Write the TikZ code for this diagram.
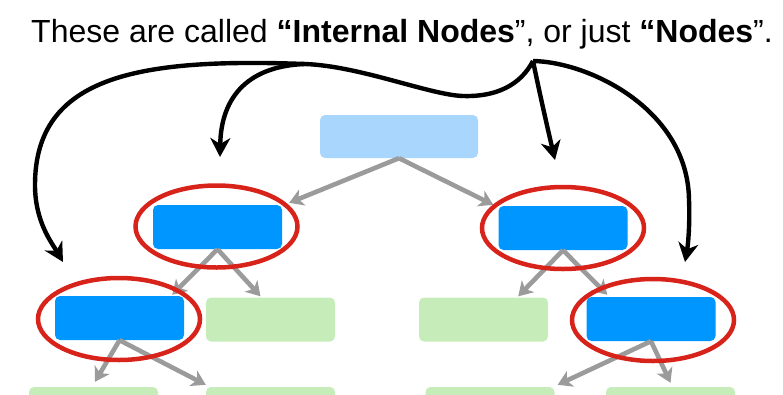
\documentclass[tikz,border=0pt]{standalone}
\usepackage{fontspec}
\setmainfont{Liberation Sans}
\usetikzlibrary{arrows.meta,shapes.geometric,calc}
\definecolor{rootblue}{HTML}{A9D6FD}
\definecolor{intblue}{HTML}{0096FF}
\definecolor{leafgreen}{HTML}{C6EDB9}
\definecolor{ringred}{HTML}{D8231B}
\definecolor{arrgray}{HTML}{9B9B9B}
\tikzset{
  box/.style={rectangle, rounded corners=5pt, inner sep=0pt, minimum width=129pt, minimum height=44pt},
  rootbox/.style={box, fill=rootblue, minimum width=158pt, minimum height=43pt},
  intbox/.style={box, fill=intblue},
  leafbox/.style={box, fill=leafgreen},
  ring/.style={ellipse, draw=ringred, line width=4.5pt, minimum width=162pt, minimum height=82pt, inner sep=0pt},
  garrow/.style={draw=arrgray, line width=4.6pt, -{Stealth[length=14pt,width=17pt,inset=4pt]}},
  barrow/.style={draw=black, line width=4.4pt, -{Stealth[length=19pt,width=20pt,inset=6pt]}},
  bline/.style={draw=black, line width=4.4pt}
}
\begin{document}
\begin{tikzpicture}[x=1pt,y=-1pt]
\useasboundingbox (0,0) rectangle (783,394);
\clip (0,0) rectangle (783,394);
\node[anchor=base, font=\fontsize{32pt}{36pt}\selectfont] (title) at (402,42)
  {These are called {\bfseries “Internal Nodes}”, or just {\bfseries “Nodes}”.};
% boxes
\node[rootbox] (root) at (399,136.5) {};
\node[intbox] (l1l) at (217.5,227) {};
\node[intbox] (l1r) at (563,228) {};
\node[intbox] (l2l) at (119.5,318) {};
\node[leafbox] (g2a) at (270.5,319.5) {};
\node[leafbox] (g2b) at (483.5,319.5) {};
\node[intbox] (l2r) at (651,319) {};
\node[leafbox] (l3a) at (93.5,409) {};
\node[leafbox] (l3b) at (270.5,409) {};
\node[leafbox] (l3c) at (490,409) {};
\node[leafbox] (l3d) at (670.5,409) {};
% gray arrows
\draw[garrow] (root.south) -- ($(l1l.north east)+(7,-2)$);
\draw[garrow] (root.south) -- ($(l1r.north west)+(-5,-1)$);
\draw[garrow] (l1l.south) -- ($(l2l.north east)+(-12,-1)$);
\draw[garrow] (l1l.south) -- ($(g2a.north)+(-10,-1)$);
\draw[garrow] (l1r.south) -- ($(g2b.north east)+(-30,-1)$);
\draw[garrow] (l1r.south) -- ($(l2r.north west)+(21,-2)$);
\draw[garrow] (l2l.south) -- ($(l3a.north)+(1.5,-5)$);
\draw[garrow] (l2l.south) -- ($(l3b.north west)+(0,-2)$);
\draw[garrow] (l2r.south) -- ($(l3c.north east)+(3,-2)$);
\draw[garrow] (l2r.south) -- ($(l3d.north)+(0,-4)$);
% red rings
\node[ring] (r1) at (216.5,226.5) {};
\node[ring] (r2) at (563,228) {};
\node[ring] (r3) at (119,319) {};
\node[ring] (r4) at (653,320) {};
% black pointer arrows
\coordinate (J) at (533,61);
\coordinate (B) at (305,64);
\coordinate (t1) at (63,262);
\coordinate (t2) at (220,157);
\coordinate (t3) at (555,160);
\coordinate (t4) at (685,262);
\draw[bline] (J) .. controls (520,86) and (495,97) .. (463,96)
  .. controls (430,95) and (360,66) .. (B);
\draw[barrow] (B) .. controls (140,58) and (35,75) .. (35,185)
  .. controls (35,222) and (52,243) .. (t1);
\draw[barrow] (B) .. controls (250,66) and (221,95) .. (t2);
\draw[barrow] (J) .. controls (540,95) and (548,130) .. (t3);
\draw[barrow] (J) .. controls (590,62) and (688,110) .. (689,200)
  .. controls (690,225) and (688,245) .. (t4);
\end{tikzpicture}
\end{document}
